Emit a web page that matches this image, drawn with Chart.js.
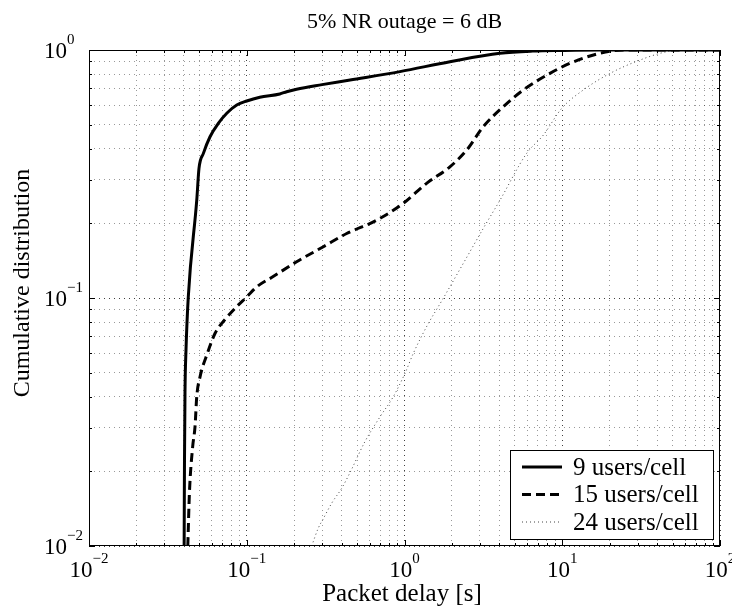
<html>
<head>
    <script type="text/javascript" src="https://cdn.jsdelivr.net/npm/chart.js@4/dist/chart.umd.min.js"></script>
    <style>
        body { margin: 0; background: #fff; }
        #wrap { width: 732px; height: 606px; }
    </style>
</head>
<body>
<div id="wrap"><canvas id="cdf" width="732" height="606"></canvas></div>
<script type="text/javascript">

    // decades shown on each axis (tick labels are 10^n)
    var xDecades = [-2, -1, 0, 1, 2];
    var yDecades = [-2, -1, 0];

    var titleText = "5% NR outage = 6 dB";
    var xTitle = "Packet delay [s]";
    var yTitle = "Cumulative distribution";

    // 9 users/cell
    var users9X = [0.0401, 0.0402, 0.0403, 0.0406, 0.0412, 0.0426, 0.0482, 0.0498, 0.0531, 0.0585, 0.0660, 0.0747, 0.0864, 0.100, 0.121, 0.162, 0.179, 0.207, 0.30, 0.452, 0.936, 1.94, 4.03, 6.5, 10, 17.3, 100];
    var users9Y = [0.01, 0.0153, 0.0219, 0.0414, 0.0617, 0.101, 0.248, 0.333, 0.383, 0.447, 0.506, 0.556, 0.600, 0.623, 0.645, 0.665, 0.679, 0.695, 0.725, 0.757, 0.818, 0.897, 0.970, 0.99, 0.996, 1.0, 1.0];

    // 15 users/cell
    var users15X = [0.0423, 0.0433, 0.0454, 0.0470, 0.0482, 0.0506, 0.0563, 0.0630, 0.0739, 0.0863, 0.100, 0.116, 0.147, 0.207, 0.306, 0.430, 0.667, 0.983, 1.38, 1.94, 2.48, 3.16, 4.23, 5.66, 8.36, 11.2, 17.3, 24.3, 100];
    var users15Y = [0.01, 0.0163, 0.0251, 0.0303, 0.040, 0.0482, 0.0598, 0.0721, 0.0828, 0.0923, 0.101, 0.111, 0.122, 0.140, 0.161, 0.182, 0.206, 0.241, 0.290, 0.338, 0.395, 0.491, 0.591, 0.690, 0.805, 0.884, 0.970, 1.0, 1.0];

    // 24 users/cell
    var users24X = [0.258, 0.284, 0.306, 0.346, 0.400, 0.452, 0.562, 0.700, 0.849, 1.007, 1.137, 1.38, 1.76, 2.36, 3.16, 4.03, 5.95, 7.59, 9.93, 13.6, 20.1, 31.1, 45.9, 60, 100];
    var users24Y = [0.01, 0.0118, 0.0129, 0.0149, 0.0171, 0.0198, 0.0264, 0.0332, 0.040, 0.0497, 0.0598, 0.0766, 0.0997, 0.138, 0.191, 0.248, 0.383, 0.454, 0.582, 0.690, 0.805, 0.911, 0.984, 1.0, 1.0];

    var FONT = '"Liberation Serif", "Times New Roman", serif';

    function toPoints(xs, ys) {
        var pts = [];
        for (var i = 0; i < xs.length; i++) {
            pts.push({x: xs[i], y: ys[i]});
        }
        return pts;
    }

    // 1..9 x 10^n for every decade, the way matlab puts its minor grid
    function gridTicks(decades) {
        var t = [];
        for (var i = 0; i < decades.length - 1; i++) {
            for (var m = 1; m <= 9; m++) {
                t.push({value: m * Math.pow(10, decades[i]), major: m === 1});
            }
        }
        t.push({value: Math.pow(10, decades[decades.length - 1]), major: true});
        return t;
    }

    function drawPower(ctx, exp, x, y, align) {
        ctx.font = '23px ' + FONT;
        var w10 = ctx.measureText('10').width;
        ctx.font = '15px ' + FONT;
        var e = exp < 0 ? '\u2212' + Math.abs(exp) : String(exp);
        var we = ctx.measureText(e).width;
        var left = align === 'center' ? x - (w10 + we) / 2 : x;
        ctx.textAlign = 'left';
        ctx.textBaseline = 'middle';
        ctx.font = '23px ' + FONT;
        ctx.fillText('10', left, y);
        ctx.font = '15px ' + FONT;
        ctx.fillText(e, left + w10, y - 12);
    }

    var matlabAxes = {
        id: 'matlabAxes',
        afterDraw: function(chart) {
            var ctx = chart.ctx;
            var a = chart.chartArea;
            var xs = chart.scales.x, ys = chart.scales.y;
            ctx.save();

            // box
            ctx.strokeStyle = '#000';
            ctx.lineWidth = 1;
            ctx.setLineDash([]);
            ctx.strokeRect(a.left + 0.5, a.top + 0.5, a.right - a.left - 1, a.bottom - a.top - 1);

            // inward tick marks on all sides
            ctx.beginPath();
            xs.ticks.forEach(function(t) {
                var px = Math.round(xs.getPixelForValue(t.value)) + 0.5;
                var len = t.major ? 6 : 3;
                ctx.moveTo(px, a.bottom); ctx.lineTo(px, a.bottom - len);
                ctx.moveTo(px, a.top); ctx.lineTo(px, a.top + len);
            });
            ys.ticks.forEach(function(t) {
                var py = Math.round(ys.getPixelForValue(t.value)) + 0.5;
                var len = t.major ? 6 : 3;
                ctx.moveTo(a.left, py); ctx.lineTo(a.left + len, py);
                ctx.moveTo(a.right, py); ctx.lineTo(a.right - len, py);
            });
            ctx.stroke();

            // tick labels
            ctx.fillStyle = '#000';
            xDecades.forEach(function(d) {
                drawPower(ctx, d, xs.getPixelForValue(Math.pow(10, d)), a.bottom + 25, 'center');
            });
            yDecades.forEach(function(d) {
                drawPower(ctx, d, 44, ys.getPixelForValue(Math.pow(10, d)) + 2, 'left');
            });

            // titles
            ctx.textAlign = 'center';
            ctx.textBaseline = 'middle';
            ctx.font = '22px ' + FONT;
            ctx.fillText(titleText, (a.left + a.right) / 2, 22);
            ctx.font = '25px ' + FONT;
            ctx.fillText(xTitle, 402, 594);
            ctx.save();
            ctx.font = '24px ' + FONT;
            ctx.translate(23, 283);
            ctx.rotate(-Math.PI / 2);
            ctx.fillText(yTitle, 0, 0);
            ctx.restore();

            // legend box in the lower right corner
            var bx = 510, by = 450, bw = 203, bh = 89;
            ctx.fillStyle = '#fff';
            ctx.fillRect(bx, by, bw, bh);
            ctx.strokeStyle = '#000';
            ctx.lineWidth = 1;
            ctx.strokeRect(bx + 0.5, by + 0.5, bw, bh);
            chart.data.datasets.forEach(function(ds, i) {
                var cy = 467 + i * 27.5;
                ctx.beginPath();
                ctx.strokeStyle = ds.borderColor;
                ctx.lineWidth = ds.borderWidth;
                ctx.setLineDash(ds.borderDash || []);
                ctx.moveTo(522, cy);
                ctx.lineTo(562, cy);
                ctx.stroke();
                ctx.setLineDash([]);
                ctx.fillStyle = '#000';
                ctx.font = '25px ' + FONT;
                ctx.textAlign = 'left';
                ctx.textBaseline = 'middle';
                ctx.fillText(ds.label, 573, cy + 1);
            });
            ctx.restore();
        }
    };

    function axisOptions(decades) {
        return {
            type: 'logarithmic',
            min: Math.pow(10, decades[0]),
            max: Math.pow(10, decades[decades.length - 1]),
            afterBuildTicks: function(scale) {
                scale.ticks = gridTicks(decades);
            },
            ticks: { display: false },
            grid: {
                drawTicks: false,
                lineWidth: 1,
                color: function(c) {
                    return c.tick && c.tick.major ? 'rgba(0,0,0,0.75)' : 'rgba(0,0,0,0.4)';
                },
                borderDash: [1, 4]
            },
            border: { display: false, dash: [1, 4] }
        };
    }

    var chart = new Chart(document.getElementById('cdf').getContext('2d'), {
        type: 'line',
        data: {
            datasets: [{
                label: '9 users/cell',
                data: toPoints(users9X, users9Y),
                borderColor: '#000',
                borderWidth: 3,
                borderDash: [],
                pointRadius: 0,
                cubicInterpolationMode: 'monotone'
            }, {
                label: '15 users/cell',
                data: toPoints(users15X, users15Y),
                borderColor: '#000',
                borderWidth: 3,
                borderDash: [9, 5],
                pointRadius: 0,
                cubicInterpolationMode: 'monotone'
            }, {
                label: '24 users/cell',
                data: toPoints(users24X, users24Y),
                borderColor: '#444',
                borderWidth: 1,
                borderDash: [1, 3],
                pointRadius: 0,
                cubicInterpolationMode: 'monotone'
            }]
        },
        options: {
            responsive: false,
            animation: false,
            layout: { padding: { left: 89, right: 12, top: 50, bottom: 60 } },
            plugins: {
                legend: { display: false },
                title: { display: false },
                tooltip: { enabled: false }
            },
            scales: {
                x: axisOptions(xDecades),
                y: axisOptions(yDecades)
            }
        },
        plugins: [matlabAxes]
    });

</script>
</body>
</html>
